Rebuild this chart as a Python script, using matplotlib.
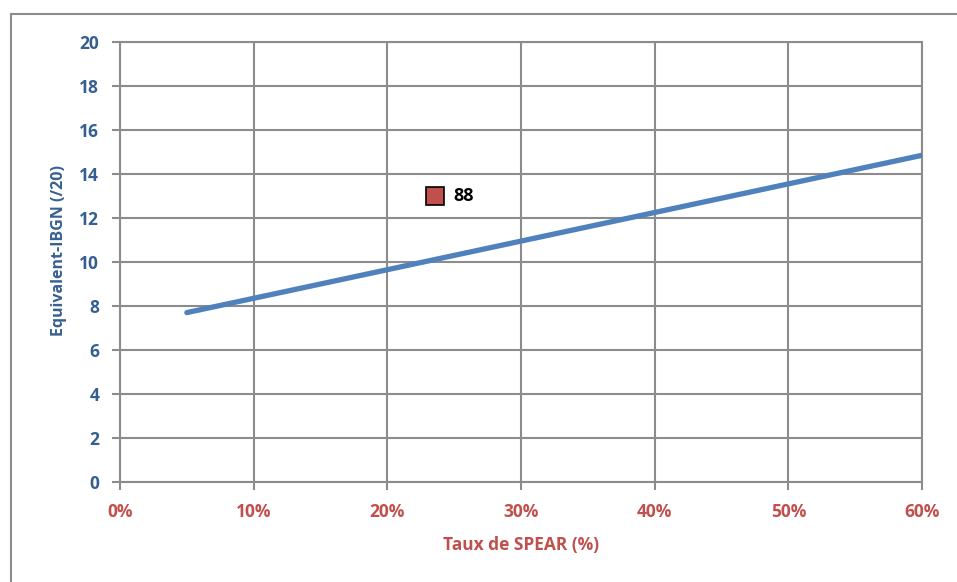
import matplotlib
matplotlib.use("Agg")
import matplotlib.pyplot as plt
from matplotlib.patches import Rectangle
from matplotlib.ticker import FuncFormatter

# Reference line: Equivalent-IBGN as a function of SPEAR rate
spear_line = [5, 60]
ibgn_line = [7.7, 14.85]

# Observed station
point_spear = [23.6]
point_ibgn = [13.0]
point_labels = ["88"]

x_ticks = [0, 10, 20, 30, 40, 50, 60]
y_ticks = [0, 2, 4, 6, 8, 10, 12, 14, 16, 18, 20]

plt.rcParams["font.family"] = ["Open Sans", "DejaVu Sans"]
plt.rcParams["font.weight"] = "bold"

W, H = 957, 582
fig = plt.figure(figsize=(W / 100, H / 100), dpi=100)
ax = fig.add_axes([120 / W, 1 - 482 / H, (922 - 120) / W, (482 - 42) / H])

# outer chart frame
fig.patches.append(Rectangle((11 / W, -0.01), 1.0, 1 - 14 / H + 0.01,
                             transform=fig.transFigure, fill=False,
                             edgecolor="#8c8c8c", linewidth=1.5, zorder=0))

grid_c = "#8c8c8c"
ax.set_xlim(0, 60)
ax.set_ylim(0, 20)
ax.set_xticks(x_ticks)
ax.set_yticks(y_ticks)
ax.xaxis.set_major_formatter(FuncFormatter(lambda v, p: f"{int(v)}%"))
ax.grid(True, color=grid_c, linewidth=1.5)
ax.set_axisbelow(True)
for s in ax.spines.values():
    s.set_color(grid_c)
    s.set_linewidth(1.5)
ax.tick_params(axis="both", direction="out", length=6, width=1.5, color=grid_c)
ax.tick_params(axis="x", colors="#c0504d", labelsize=12.5, pad=9)
ax.tick_params(axis="y", colors="#365f91", labelsize=12.5, pad=9)
ax.tick_params(axis="both", color=grid_c)
for lab in ax.get_xticklabels() + ax.get_yticklabels():
    lab.set_fontweight("bold")

ax.plot(spear_line, ibgn_line, color="#4f81bd", linewidth=3.8,
        solid_capstyle="round", zorder=3)
ax.plot(point_spear, point_ibgn, linestyle="none", marker="s", markersize=13,
        markerfacecolor="#c0504d", markeredgecolor="black",
        markeredgewidth=1.2, zorder=4)
for x, y, t in zip(point_spear, point_ibgn, point_labels):
    ax.annotate(t, (x, y), xytext=(13, 0), textcoords="offset points",
                va="center", ha="left", fontsize=13, fontweight="bold",
                color="black")

ax.set_xlabel("Taux de SPEAR (%)", color="#c0504d", fontsize=12.5,
              fontweight="bold", labelpad=11)
ax.set_ylabel("Equivalent-IBGN (/20)", color="#376092", fontsize=11.5,
              fontweight="bold", labelpad=8)
ax.yaxis.set_label_coords(-0.066, 0.525)

fig.savefig("out.png", dpi=100)
